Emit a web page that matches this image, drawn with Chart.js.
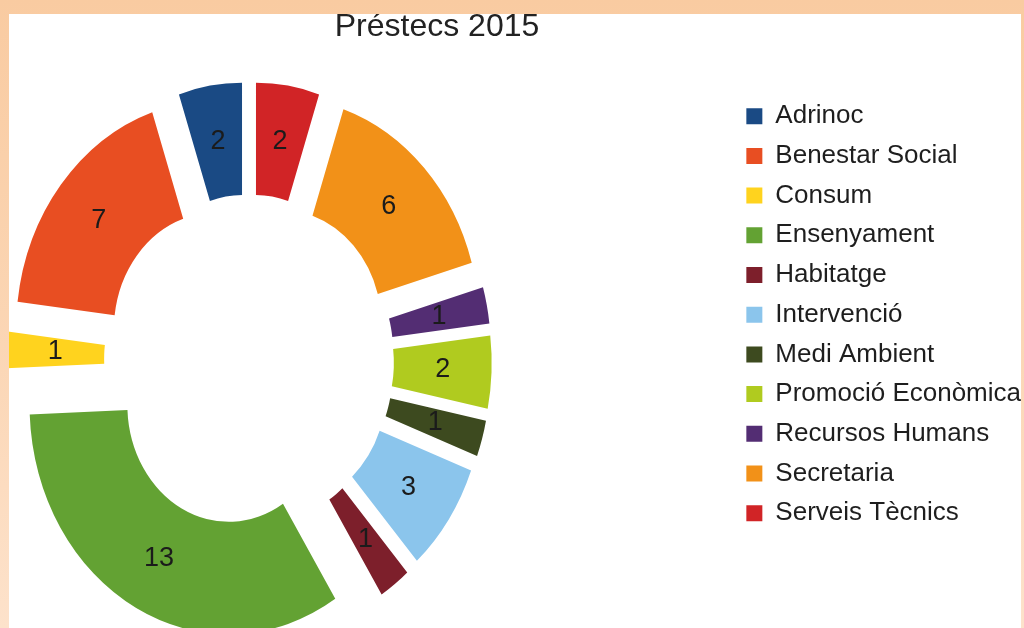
<!DOCTYPE html>
<html>
<head>
<meta charset="utf-8">
<script src="https://cdn.jsdelivr.net/npm/chart.js@4.4.0/dist/chart.umd.min.js"></script>
<style>
html, body { margin: 0; padding: 0; }
body {
    width: 1024px; height: 628px; overflow: hidden; position: relative;
    background: linear-gradient(180deg, #f9cba1 0%, #fbd6b5 55%, #fde2cb 100%);
}
#panel { position: absolute; left: 9px; top: 14px; width: 1012px; height: 614px; background: #fff; overflow: hidden; }
#wrap { position: absolute; left: -166px; top: 0; width: 1190px; height: 614px; }
</style>
</head>
<body>
<div id="panel"><div id="wrap"><canvas id="myChart"></canvas></div></div>
<script>
'use strict';
var chartTitle = 'Préstecs 2015';
var categories = ['Adrinoc', 'Benestar Social', 'Consum', 'Ensenyament', 'Habitatge', 'Intervenció',
    'Medi Ambient', 'Promoció Econòmica', 'Recursos Humans', 'Secretaria', 'Serveis Tècnics'];
var loans = [2, 7, 1, 13, 1, 3, 1, 2, 1, 6, 2];
var colors = ['#1a4a84', '#e84e22', '#ffd31e', '#63a233', '#7d1f2b', '#8bc5ec',
    '#3d4a1f', '#b0cb1f', '#532d73', '#f29118', '#d12426'];

// the original goes counter-clockwise from 12 o'clock, Chart.js goes clockwise,
// so hand it the reversed lists and flip the legend back
var pieLabels = categories.slice().reverse();
var pieValues = loans.slice().reverse();
var pieColors = colors.slice().reverse();

var FONT = '"Liberation Sans", Arial, sans-serif';
var CENTER_X = 406, CENTER_Y = 347; // where the ring sits on the canvas
var SQUASH_X = 0.87;                 // the ring in the picture is narrower than tall
var EXPLODE = 50;                    // every slice is pulled out this far

// draws the arcs pulled apart (without the radius growth of the arc "offset" option)
// and writes the values in the middle of each slice
var explodedPie = {
    id: 'explodedPie',
    beforeDatasetsDraw: function (chart) {
        var ctx = chart.ctx;
        var meta = chart.getDatasetMeta(0);
        meta.data.forEach(function (arc) {
            var mid = (arc.startAngle + arc.endAngle) / 2;
            ctx.save();
            ctx.translate(CENTER_X, CENTER_Y);
            ctx.scale(SQUASH_X, 1);
            ctx.translate(Math.cos(mid) * EXPLODE - arc.x, Math.sin(mid) * EXPLODE - arc.y);
            arc.draw(ctx);
            ctx.restore();
        });
        ctx.save();
        ctx.font = '27px ' + FONT;
        ctx.fillStyle = '#1b1b1b';
        ctx.textAlign = 'center';
        ctx.textBaseline = 'middle';
        meta.data.forEach(function (arc, i) {
            var mid = (arc.startAngle + arc.endAngle) / 2;
            var r = (arc.innerRadius + arc.outerRadius) / 2 + EXPLODE;
            ctx.fillText(String(pieValues[i]),
                CENTER_X + Math.cos(mid) * r * SQUASH_X,
                CENTER_Y + Math.sin(mid) * r);
        });
        ctx.restore();
        return false;
    }
};

var ctx = document.getElementById('myChart').getContext('2d');
var myChart = new Chart(ctx, {
    type: 'doughnut',
    data: {
        labels: pieLabels,
        datasets: [{
            data: pieValues,
            backgroundColor: pieColors,
            borderWidth: 0
        }]
    },
    options: {
        responsive: true,
        maintainAspectRatio: false,
        animation: false,
        events: [],
        radius: 229,
        cutout: '50.9%',
        layout: { padding: { bottom: 12.6, right: 2 } },
        plugins: {
            title: {
                display: true,
                text: chartTitle,
                color: '#222',
                font: { family: FONT, size: 32, weight: 'normal', lineHeight: 0.8 },
                padding: { top: 0, bottom: 0 }
            },
            legend: {
                position: 'right',
                reverse: true,
                labels: {
                    boxWidth: 16,
                    boxHeight: 16,
                    padding: 13.7,
                    color: '#1e1e1e',
                    font: { family: FONT, size: 26 }
                }
            },
            tooltip: { enabled: false }
        }
    },
    plugins: [explodedPie]
});
</script>
</body>
</html>
